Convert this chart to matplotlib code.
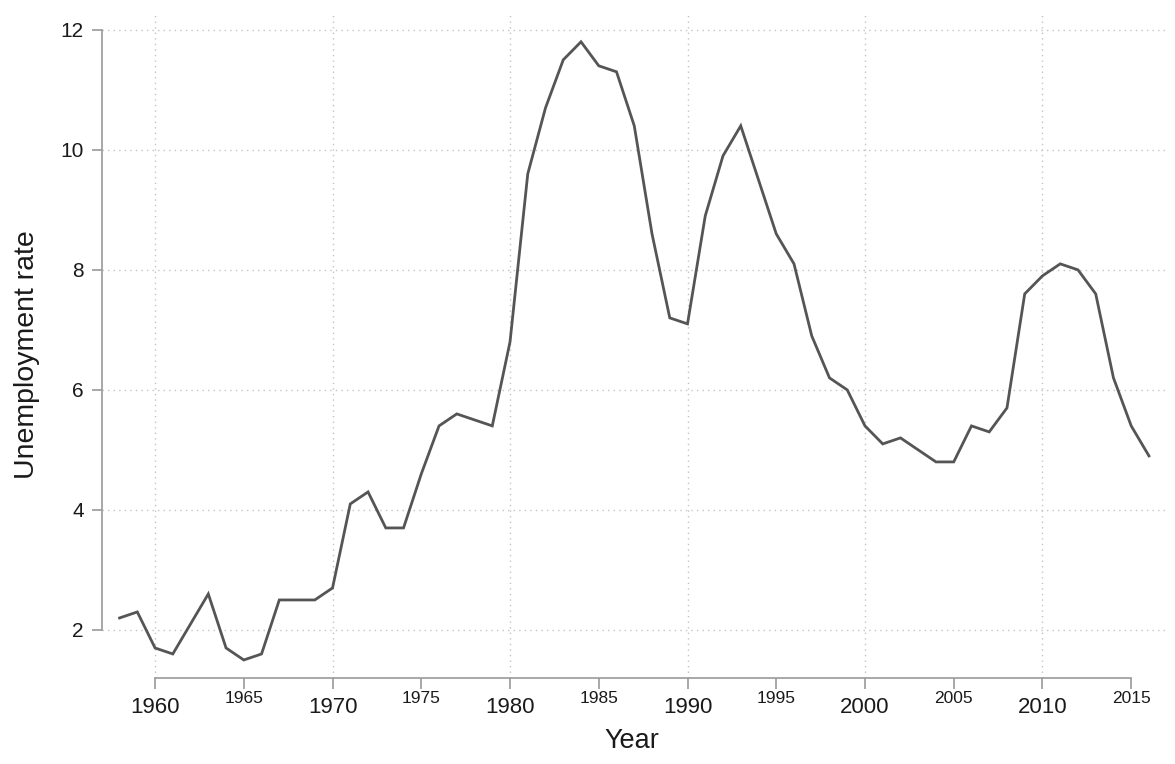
import matplotlib
matplotlib.use("Agg")
import matplotlib.pyplot as plt
import numpy as np

plt.rcParams['font.family'] = ['Liberation Sans', 'DejaVu Sans']

# unemployment rate by year
years = list(range(1958, 2017))
rate = [2.2, 2.3, 1.7, 1.6, 2.1, 2.6, 1.7, 1.5, 1.6, 2.5,
        2.5, 2.5, 2.7, 4.1, 4.3, 3.7, 3.7, 4.6, 5.4, 5.6,
        5.5, 5.4, 6.8, 9.6, 10.7, 11.5, 11.8, 11.4, 11.3, 10.4,
        8.6, 7.2, 7.1, 8.9, 9.9, 10.4, 9.5, 8.6, 8.1, 6.9,
        6.2, 6.0, 5.4, 5.1, 5.2, 5.0, 4.8, 4.8, 5.4, 5.3,
        5.7, 7.6, 7.9, 8.1, 8.0, 7.6, 6.2, 5.4, 4.9]

major_years = [1960, 1970, 1980, 1990, 2000, 2010]
minor_years = [1965, 1975, 1985, 1995, 2005, 2015]
y_ticks = [2, 4, 6, 8, 10, 12]

axis_col = '#9a9a9a'
grid_col = '#c4c4c4'
text_col = '#1a1a1a'

fig = plt.figure(figsize=(11.75, 7.64), dpi=100)
ax = fig.add_axes([0.0868, 0.1126, 0.9072, 0.8704])

ax.plot(years, rate, color='#555555', lw=2.0, solid_joinstyle='miter')

ax.set_xlim(1957.01, 2017.07)
ax.set_ylim(1.2, 12.28)

ax.set_xticks(major_years)
ax.set_xticklabels([str(y) for y in major_years], fontsize=16, color=text_col)
ax.set_xticks(minor_years, minor=True)
ax.set_xticklabels([str(y) for y in minor_years], minor=True, fontsize=12.5, color=text_col)
ax.set_yticks(y_ticks)
ax.set_yticklabels([str(v) for v in y_ticks], fontsize=15, color=text_col)

ax.tick_params(axis='x', which='major', length=8, width=1.2, color=axis_col, pad=5.5)
ax.tick_params(axis='x', which='minor', length=8, width=1.2, color=axis_col, pad=1.5)
ax.tick_params(axis='y', length=7, width=1.2, color=axis_col, pad=6)

for s in ['top', 'right']:
    ax.spines[s].set_visible(False)
for s in ['left', 'bottom']:
    ax.spines[s].set_color(axis_col)
    ax.spines[s].set_linewidth(1.2)
ax.spines['left'].set_bounds(2, 12)
ax.spines['bottom'].set_bounds(1960, 2015)

ax.grid(axis='y', which='major', linestyle=(0, (1, 3)), color=grid_col, lw=1)
ax.grid(axis='x', which='major', linestyle=(0, (1, 3)), color=grid_col, lw=1)
ax.set_axisbelow(True)

ax.set_xlabel('Year', fontsize=19.5, color=text_col)
ax.xaxis.set_label_coords(0.497, -0.075)
ax.set_ylabel('Unemployment rate', fontsize=20.5, color=text_col)
ax.yaxis.set_label_coords(-0.058, 0.486)

fig.savefig('out.png', dpi=100)
